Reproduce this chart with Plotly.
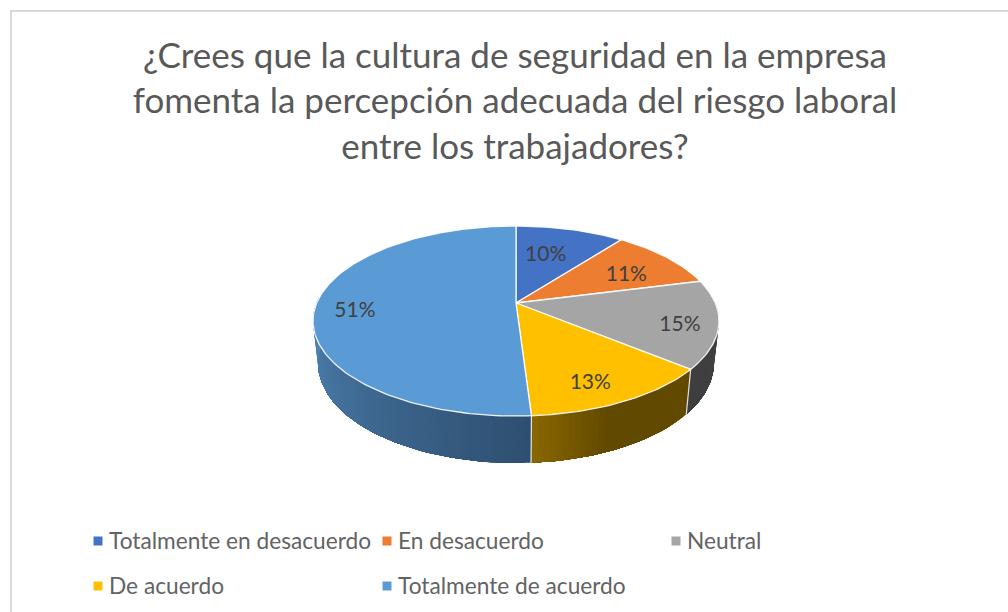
import math
import plotly.graph_objects as go

TITLE = "¿Crees que la cultura de seguridad en la empresa<br>fomenta la percepción adecuada del riesgo laboral<br>entre los trabajadores?"
categories = ["Totalmente en desacuerdo", "En desacuerdo", "Neutral", "De acuerdo", "Totalmente de acuerdo"]
values = [10.4, 10.6, 15, 13, 51]
labels = ["10%", "11%", "15%", "13%", "51%"]
colors = ["#4472C4", "#ED7D31", "#A5A5A5", "#FFC000", "#5B9BD5"]
wall_start = [(45, 80, 140), (150, 80, 30), (66, 66, 66), (98, 73, 0), (46, 79, 112)]
wall_end = [(45, 80, 140), (150, 80, 30), (62, 62, 62), (138, 103, 0), (82, 136, 186)]
wall_hold = [0, 0, 0, 0.6, 0]  # share of the wall that keeps the start colour

# Perspective projection of the pie disc
CX, CY = 516, 303
A, B, K = 199.3, 91.6, 0.1895
label_radius = [0.60, 0.72, 0.80, 0.78, 0.80]
label_shift = [(-5, 0), (-1, 7), (3, 6), (-7, 7), (-1, 6)]
legend_cols = [98, 387, 676]
legend_rows = [541, 586]


def top(frac, r=1.0):
    th = 2 * math.pi * frac
    u, v = r * math.sin(th), -r * math.cos(th)
    d = 1 - K * v
    return CX + A * u / d, CY + B * v / d


def bottom(frac):
    x, y = top(frac)
    v = -math.cos(2 * math.pi * frac)
    return CX + (x - CX) * 0.975, y + 41 + 6 * v


def arc(f0, f1, n):
    return [f0 + (f1 - f0) * i / n for i in range(n + 1)]


fig = go.Figure()
total = sum(values)
edges = [0]
for val in values:
    edges.append(edges[-1] + val / total)


def poly(xs, ys, fill, line, width, name):
    fig.add_trace(go.Scatter(x=xs, y=ys, mode="lines", fill="toself", fillcolor=fill,
                             line=dict(color=line, width=width), hoverinfo="skip",
                             showlegend=False, name=name))


# side walls, as shaded strips painted over one another so no seams show
for i, cat in enumerate(categories):
    f0, f1 = edges[i], edges[i + 1]
    f0v, f1v = max(f0, 0.24), min(f1, 0.76)
    if f1v <= f0v:
        continue
    n = max(2, int((f1v - f0v) * 240))
    s, e = wall_start[i], wall_end[i]
    for j in range(n):
        # Each strip reaches from its start to the end of the wall
        a = f0v + (f1v - f0v) * j / n
        t = max(0, ((j + 0.5) / n - wall_hold[i]) / (1 - wall_hold[i]))
        c = tuple(round(s[k] + (e[k] - s[k]) * t) for k in range(3))
        col = "rgb(%d,%d,%d)" % c
        pts = arc(a, f1v, max(3, n - j))
        xs = [top(p)[0] for p in pts] + [bottom(p)[0] for p in reversed(pts)]
        ys = [top(p)[1] for p in pts] + [bottom(p)[1] for p in reversed(pts)]
        poly(xs, ys, col, "rgba(0,0,0,0)", 0, cat)

# white separators between the walls
for f in edges[1:-1]:
    if 0.24 < f < 0.76:
        fig.add_trace(go.Scatter(x=[top(f)[0], bottom(f)[0]], y=[top(f)[1], bottom(f)[1]], mode="lines",
                                 line=dict(color="rgba(255,255,255,0.85)", width=1.2),
                                 hoverinfo="skip", showlegend=False))

# top faces
for i, cat in enumerate(categories):
    pts = arc(edges[i], edges[i + 1], max(6, int(values[i]) * 3))
    xs = [CX] + [top(p)[0] for p in pts] + [CX]
    ys = [CY] + [top(p)[1] for p in pts] + [CY]
    poly(xs, ys, colors[i], "rgba(255,255,255,0.9)", 1.3, cat)

# data labels
lx, ly = [], []
for i in range(len(values)):
    x, y = top((edges[i] + edges[i + 1]) / 2, label_radius[i])
    lx.append(x + label_shift[i][0])
    ly.append(y + label_shift[i][1])
fig.add_trace(go.Scatter(x=lx, y=ly, mode="text", text=labels, hoverinfo="skip", showlegend=False,
                         textfont=dict(family="Lato", size=21, color="#404040")))

# legend
for i, cat in enumerate(categories):
    x, y = legend_cols[i % 3], legend_rows[i // 3]
    fig.add_trace(go.Scatter(x=[x], y=[y], mode="markers", hoverinfo="skip", showlegend=False,
                             marker=dict(symbol="square", size=9, color=colors[i])))
    fig.add_trace(go.Scatter(x=[x + 11], y=[y + 2], mode="text", text=[cat], textposition="middle right",
                             hoverinfo="skip", showlegend=False,
                             textfont=dict(family="Lato", size=22.7, color="#636363")))

fig.update_layout(
    width=1008, height=612, margin=dict(l=0, r=0, t=0, b=0), autosize=False,
    paper_bgcolor="white", plot_bgcolor="white", showlegend=False,
    title=dict(text=TITLE, x=515 / 1008, xanchor="center", y=1 - 67.5 / 612, yanchor="top",
               font=dict(family="Lato", size=35, color="#595959")),
    xaxis=dict(range=[0, 1008], visible=False, fixedrange=True),
    yaxis=dict(range=[612, 0], visible=False, fixedrange=True),
    shapes=[
        dict(type="line", xref="paper", yref="paper", x0=11 / 1008, x1=11 / 1008, y0=0, y1=1 - 11 / 612,
             line=dict(color="#D9D9D9", width=2)),
        dict(type="line", xref="paper", yref="paper", x0=10 / 1008, x1=1, y0=1 - 11 / 612, y1=1 - 11 / 612,
             line=dict(color="#D9D9D9", width=2)),
    ],
)
fig.write_html("out.html", config={"displayModeBar": False},
               post_script="document.body.style.margin='0';document.documentElement.style.overflow='hidden';")
